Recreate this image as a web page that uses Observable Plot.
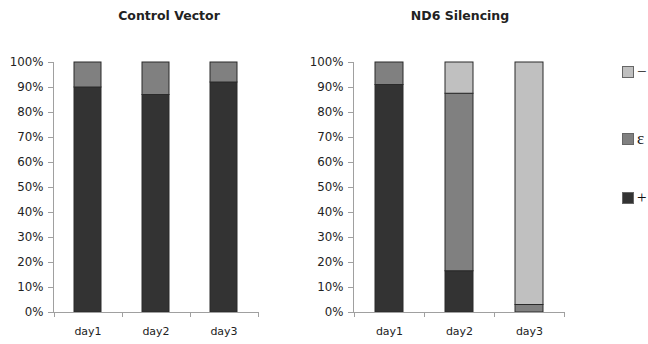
<!DOCTYPE html>
<html>
<head>
<meta charset="utf-8">
<script src="https://cdn.jsdelivr.net/npm/d3@7"></script>
<script src="https://cdn.jsdelivr.net/npm/@observablehq/plot@0.6"></script>
<style>
  html, body { margin: 0; padding: 0; background: #fff; }
  #wrap { position: relative; width: 648px; height: 344px; overflow: hidden; font-family: "DejaVu Sans", Verdana, sans-serif; }
  .panel { position: absolute; top: 0; }
  .panel g[aria-label="y-axis tick label"] text { font-size: 11.8px; }
  .title { position: absolute; top: 8px; font-weight: bold; font-size: 12.5px; color: #222; transform: translateX(-50%); white-space: nowrap; }
  .legend { position: absolute; left: 622px; font-family: "Liberation Serif", "DejaVu Serif", serif; font-size: 17px; color: #111; display: flex; align-items: center; line-height: 1; }
  .legend span.sw { display: inline-block; width: 10px; height: 10px; border: 1px solid #666; margin-right: 3px; }
</style>
</head>
<body>
<div id="wrap"></div>
<script>
// ---- data ----
const days = ["day1", "day2", "day3"];
const groups = ["+", "ε", "−"];                 // bottom to top
const groupColors = ["#333333", "#808080", "#c0c0c0"];
const controlPlus    = [90, 87, 92];
const controlEps     = [10, 13, 8];
const controlMinus   = [0, 0, 0];
const nd6Plus        = [91, 16.5, 0];
const nd6Eps         = [9, 71, 3];
const nd6Minus       = [0, 12.5, 97];
const yTicks = [0, 10, 20, 30, 40, 50, 60, 70, 80, 90, 100];

function toRows(plus, eps, minus) {
  const rows = [];
  days.forEach((d, i) => {
    rows.push({day: d, group: groups[0], value: plus[i]});
    rows.push({day: d, group: groups[1], value: eps[i]});
    rows.push({day: d, group: groups[2], value: minus[i]});
  });
  return rows;
}

function axesMark(index, scales, values, dims) {
  const g = d3.create("svg:g");
  const x = scales.x, y = scales.y;
  const x0 = dims.marginLeft, x1 = dims.width - dims.marginRight;
  const yb = dims.height - dims.marginBottom;
  const axisColor = "#a0a0a0";
  // y axis line and ticks
  g.append("line").attr("x1", x0 + 0.5).attr("x2", x0 + 0.5)
    .attr("y1", y(100)).attr("y2", yb).attr("stroke", axisColor);
  yTicks.forEach(t => {
    g.append("line").attr("x1", x0 - 5).attr("x2", x0 + 0.5)
      .attr("y1", Math.round(y(t)) + 0.5).attr("y2", Math.round(y(t)) + 0.5).attr("stroke", axisColor);
  });
  // x axis line and category boundary ticks
  g.append("line").attr("x1", x0).attr("x2", x1)
    .attr("y1", yb + 0.5).attr("y2", yb + 0.5).attr("stroke", axisColor);
  const bw = x.bandwidth ? x.bandwidth() : 0;
  const step = x.step ? x.step() : (x1 - x0) / days.length;
  const bounds = days.map(d => x(d) + bw / 2 - step / 2);
  bounds.push(x(days[days.length - 1]) + bw / 2 + step / 2);
  bounds.forEach(b => {
    g.append("line").attr("x1", Math.round(b) + 0.5).attr("x2", Math.round(b) + 0.5)
      .attr("y1", yb).attr("y2", yb + 5).attr("stroke", axisColor);
  });
  return g.node();
}

function panel(rows, width, marginRight) {
  return Plot.plot({
    width: width,
    height: 344,
    marginLeft: 53,
    marginRight: marginRight,
    marginTop: 62,
    marginBottom: 32,
    style: {fontFamily: "DejaVu Sans, Verdana, sans-serif", fontSize: "11px", color: "#222", background: "white", overflow: "visible"},
    x: {domain: days, paddingInner: 0.6, paddingOuter: 0.3, label: null, tickSize: 0, tickPadding: 15},
    y: {domain: [0, 100], ticks: yTicks, tickFormat: d => d + "%", label: null, tickSize: 0, tickPadding: 10},
    color: {domain: groups, range: groupColors},
    marks: [
      Plot.barY(rows, Plot.stackY({
        x: "day", y: "value", fill: "group", z: "group", order: groups,
        stroke: "#2a2a2a", strokeWidth: 1, filter: d => d.value > 0
      })),
      axesMark
    ]
  });
}

const wrap = document.getElementById("wrap");

const left = panel(toRows(controlPlus, controlEps, controlMinus), 300, 42);
left.classList.add("panel");
left.style.left = "0px";
wrap.appendChild(left);

const right = panel(toRows(nd6Plus, nd6Eps, nd6Minus), 348, 83);
right.classList.add("panel");
right.style.left = "300px";
wrap.appendChild(right);

// titles
[["Control Vector", 169], ["ND6 Silencing", 460]].forEach(([t, cx]) => {
  const el = document.createElement("div");
  el.className = "title";
  el.textContent = t;
  el.style.left = cx + "px";
  wrap.appendChild(el);
});

// legend (top to bottom: −, ε, +)
const legendTops = {"−": 63, "ε": 130, "+": 189};
[...groups].reverse().forEach(gname => {
  const el = document.createElement("div");
  el.className = "legend";
  el.style.top = legendTops[gname] + "px";
  const sw = document.createElement("span");
  sw.className = "sw";
  sw.style.background = groupColors[groups.indexOf(gname)];
  el.appendChild(sw);
  const lab = document.createElement("span");
  lab.textContent = gname;
  el.appendChild(lab);
  wrap.appendChild(el);
});
</script>
</body>
</html>
